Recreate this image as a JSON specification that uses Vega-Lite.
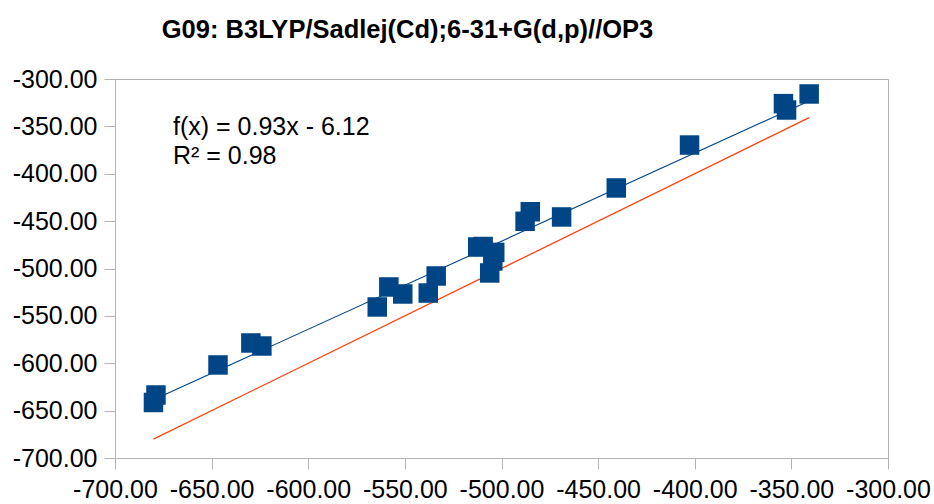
{
  "$schema": "https://vega.github.io/schema/vega-lite/v6.json",
  "autosize": "none",
  "width": 773,
  "height": 379,
  "padding": {"left": 115, "top": 79, "right": 46, "bottom": 46},
  "background": "white",
  "title": {
    "text": "G09: B3LYP/Sadlej(Cd);6-31+G(d,p)//OP3",
    "font": "Liberation Sans",
    "fontSize": 25.5,
    "fontWeight": "bold",
    "color": "black",
    "anchor": "middle",
    "frame": "group",
    "baseline": "alphabetic",
    "offset": 4,
    "dx": -94
  },
  "config": {
    "view": {"stroke": "#b3b3b3", "strokeWidth": 1},
    "axis": {
      "grid": false,
      "domainColor": "#b3b3b3",
      "tickColor": "#b3b3b3",
      "tickSize": 11,
      "labelFont": "Liberation Sans",
      "labelFontSize": 25,
      "labelColor": "black",
      "labelFlush": false,
      "labelOverlap": false,
      "title": null
    }
  },
  "datasets": {
    "points": [
      {"x": -680.1, "y": -641.4},
      {"x": -678.8, "y": -633.5},
      {"x": -646.7, "y": -601.8},
      {"x": -629.7, "y": -578.6},
      {"x": -624.0, "y": -581.8},
      {"x": -564.3, "y": -540.6},
      {"x": -558.3, "y": -519.5},
      {"x": -551.1, "y": -526.9},
      {"x": -537.9, "y": -525.9},
      {"x": -533.8, "y": -507.9},
      {"x": -512.3, "y": -477.3},
      {"x": -509.5, "y": -476.8},
      {"x": -503.5, "y": -483.0},
      {"x": -504.5, "y": -492.0},
      {"x": -506.1, "y": -504.7},
      {"x": -487.8, "y": -450.2},
      {"x": -485.1, "y": -440.1},
      {"x": -468.9, "y": -445.6},
      {"x": -440.6, "y": -415.0},
      {"x": -402.7, "y": -369.7},
      {"x": -354.1, "y": -326.0},
      {"x": -352.5, "y": -332.7},
      {"x": -340.8, "y": -315.8}
    ],
    "lines": [
      {"series": "identity", "x": -680.1, "y": -680.1},
      {"series": "identity", "x": -340.8, "y": -340.8},
      {"series": "trend", "x": -680.1, "y": -638.6},
      {"series": "trend", "x": -340.8, "y": -323.1}
    ],
    "labels": [
      {"x": -670, "y": -359.1, "text": "f(x) = 0.93x - 6.12"},
      {"x": -670, "y": -389.7, "text": "R² = 0.98"}
    ]
  },
  "encoding": {
    "x": {
      "field": "x",
      "type": "quantitative",
      "scale": {"domain": [-700, -300], "nice": false, "zero": false},
      "axis": {
        "values": [-700, -650, -600, -550, -500, -450, -400, -350, -300],
        "labelExpr": "replace(format(datum.value, '.2f'), '\u2212', '-')",
        "labelPadding": 8
      }
    },
    "y": {
      "field": "y",
      "type": "quantitative",
      "scale": {"domain": [-700, -300], "nice": false, "zero": false},
      "axis": {
        "values": [-700, -650, -600, -550, -500, -450, -400, -350, -300],
        "labelExpr": "replace(format(datum.value, '.2f'), '\u2212', '-')",
        "labelPadding": 7
      }
    }
  },
  "layer": [
    {
      "data": {"name": "lines"},
      "transform": [{"filter": "datum.series == 'identity'"}],
      "mark": {"type": "line", "color": "#ff420e", "strokeWidth": 1.3},
      "encoding": {}
    },
    {
      "data": {"name": "lines"},
      "transform": [{"filter": "datum.series == 'trend'"}],
      "mark": {"type": "line", "color": "#004586", "strokeWidth": 1.1},
      "encoding": {}
    },
    {
      "data": {"name": "points"},
      "mark": {"type": "point", "shape": "square", "filled": true, "size": 380, "color": "#004586", "opacity": 1},
      "encoding": {}
    },
    {
      "data": {"name": "labels"},
      "mark": {"type": "text", "align": "left", "baseline": "alphabetic", "font": "Liberation Sans", "fontSize": 25, "color": "black"},
      "encoding": {"text": {"field": "text"}}
    }
  ]
}
